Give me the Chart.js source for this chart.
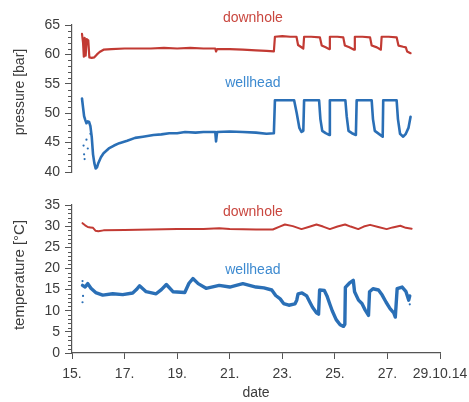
<!DOCTYPE html>
<html>
<head>
<meta charset="utf-8">
<script src="https://cdn.jsdelivr.net/npm/chart.js@4.4.1/dist/chart.umd.min.js"></script>
<style>
  html, body { margin: 0; padding: 0; background: #ffffff; }
  #wrap { position: relative; width: 469px; height: 402px; overflow: hidden; }
  canvas { display: block; position: absolute; left: 0; }
  #c1 { top: 0; }
  #c2 { top: 190px; }
</style>
</head>
<body>
<div id="wrap">
  <canvas id="c1" width="469" height="190"></canvas>
  <canvas id="c2" width="469" height="212"></canvas>
</div>
<script>
// ---------- DATA (date in days of October 2014, value) ----------
const xTickValues = [15, 17, 19, 21, 23, 25, 27, 29];
const xTickLabels = ['15.', '17.', '19.', '21.', '23.', '25.', '27.', '29.10.14'];
const pressureTicks = [40, 45, 50, 55, 60, 65];
const temperatureTicks = [0, 5, 10, 15, 20, 25, 30, 35];
const seriesNames = ['downhole', 'wellhead'];

const pressureDownhole = [
  [15.38,63.5],[15.42,62.0],[15.45,59.6],[15.48,62.8],[15.52,59.8],[15.56,62.6],[15.62,62.4],
  [15.66,59.5],[15.75,59.4],[15.85,59.5],[15.95,60.0],[16.05,60.4],[16.2,60.8],[16.5,60.9],
  [17.0,61.0],[17.5,61.0],[18.0,61.0],[18.5,61.1],[19.0,61.0],[19.5,61.1],[20.0,61.0],
  [20.45,61.0],[20.48,60.5],[20.52,60.9],[21.0,60.9],[21.5,60.8],[22.0,60.7],[22.4,60.6],
  [22.68,60.5],[22.72,63.0],[23.0,63.1],[23.3,63.0],[23.54,63.0],[23.6,61.6],[23.7,61.3],
  [23.8,61.0],[23.83,63.0],[24.1,63.0],[24.43,62.9],[24.5,61.5],[24.65,61.2],[24.78,60.9],
  [24.81,63.0],[25.1,63.0],[25.32,62.9],[25.38,61.5],[25.55,61.2],[25.73,60.8],[25.76,63.0],
  [26.05,63.0],[26.34,62.9],[26.4,61.5],[26.6,61.2],[26.75,60.8],[26.78,63.0],[27.05,63.0],
  [27.35,62.9],[27.42,61.5],[27.6,61.3],[27.7,61.2],[27.75,60.5],[27.88,60.2]
];
const pressureWellhead = [
  [15.38,52.5],[15.42,51.0],[15.46,49.5],[15.5,48.9],[15.55,48.3],[15.6,48.6],[15.65,48.5],
  [15.7,47.8],[15.75,46.0],[15.8,43.0],[15.85,41.5],[15.9,40.6],[15.95,40.8],[16.0,41.5],
  [16.1,42.5],[16.2,43.2],[16.4,44.0],[16.6,44.5],[16.8,44.9],[17.1,45.3],[17.4,45.8],
  [17.7,46.0],[18.1,46.3],[18.4,46.4],[18.7,46.6],[19.0,46.6],[19.3,46.8],[19.7,46.7],
  [20.0,46.8],[20.45,46.8],[20.48,45.2],[20.52,46.8],[21.0,46.9],[21.5,46.8],[22.0,46.7],
  [22.4,46.5],[22.68,46.6],[22.72,52.2],[23.1,52.2],[23.45,52.2],[23.55,50.0],[23.65,47.5],
  [23.73,46.8],[23.8,47.0],[23.83,52.2],[24.1,52.2],[24.4,52.2],[24.45,49.0],[24.52,47.0],
  [24.65,46.6],[24.78,46.3],[24.81,52.2],[25.1,52.2],[25.4,52.2],[25.45,49.5],[25.52,47.0],
  [25.65,46.6],[25.8,46.3],[25.83,52.2],[26.1,52.2],[26.4,52.2],[26.45,49.0],[26.52,47.0],
  [26.7,46.4],[26.82,46.0],[26.84,52.2],[27.1,52.2],[27.35,52.2],[27.4,49.0],[27.48,46.5],
  [27.6,46.0],[27.7,46.5],[27.8,47.5],[27.88,49.4]
];
const pressureWellheadStray = [
  [15.44,44.5],[15.46,43.0],[15.48,42.2],[15.55,45.5],[15.6,44.0],[15.7,46.5]
];
const temperatureDownhole = [
  [15.4,30.7],[15.5,30.2],[15.6,29.8],[15.7,29.7],[15.8,29.6],[15.9,28.9],[16.0,28.8],
  [16.2,29.0],[17.0,29.1],[18.0,29.2],[19.0,29.3],[20.0,29.3],[20.6,29.5],[21.0,29.3],
  [22.0,29.2],[22.64,29.2],[22.9,29.9],[23.1,30.4],[23.4,30.0],[23.73,29.3],[24.0,29.8],
  [24.3,30.4],[24.55,29.9],[24.81,29.3],[25.1,29.9],[25.39,30.4],[25.6,29.9],[25.89,29.3],
  [26.1,29.9],[26.34,30.3],[26.65,29.8],[26.97,29.3],[27.2,29.7],[27.49,30.1],[27.7,29.6],
  [27.92,29.4]
];
const temperatureWellhead = [
  [15.4,16.0],[15.5,15.6],[15.6,16.4],[15.72,15.3],[15.9,14.3],[16.17,13.7],[16.55,14.0],
  [16.93,13.8],[17.31,14.2],[17.45,15.0],[17.57,15.9],[17.82,14.5],[18.2,14.0],[18.4,15.0],
  [18.59,16.2],[18.84,14.5],[19.29,14.3],[19.45,16.5],[19.6,17.6],[19.8,16.4],[20.1,15.3],
  [20.6,16.0],[21.0,15.6],[21.5,16.4],[22.0,15.6],[22.3,15.4],[22.6,14.9],[22.75,13.6],
  [22.92,12.8],[23.05,11.7],[23.25,11.3],[23.48,11.6],[23.55,12.5],[23.6,14.0],[23.75,14.2],
  [23.93,13.5],[24.05,12.0],[24.15,10.8],[24.3,9.5],[24.38,9.2],[24.42,14.9],[24.6,14.8],
  [24.7,13.5],[24.8,11.7],[24.9,10.0],[25.05,7.9],[25.2,6.7],[25.33,6.3],[25.38,6.8],
  [25.4,15.5],[25.55,16.5],[25.7,17.2],[25.75,14.5],[25.9,12.5],[26.03,11.7],[26.15,10.2],
  [26.28,8.9],[26.32,14.5],[26.45,15.2],[26.66,14.9],[26.8,13.7],[26.95,12.0],[27.1,10.5],
  [27.24,9.5],[27.3,8.5],[27.37,15.2],[27.56,15.6],[27.7,14.6],[27.81,12.5],[27.85,13.5]
];
const temperatureWellheadStray = [[15.4,12.0],[15.42,13.5],[15.4,17.0],[27.85,11.5]];

// ---------- STYLE ----------
const RED = '#c23a33';
const BLUE = '#2a6fb6';
const RED_TXT = '#c9473f';
const BLUE_TXT = '#3d8ad0';
const AXIS = '#555555';
const TXT = '#3c3c3c';
const FONT = 'Liberation Sans, Arial, Helvetica, sans-serif';

const toXY = arr => arr.map(p => ({ x: p[0], y: p[1] }));

// minor ticks on y axes + axis titles + series labels
const decorPlugin = {
  id: 'decor',
  afterDraw(chart, args, opts) {
    const ctx = chart.ctx;
    const ys = chart.scales.y;
    const xs = chart.scales.x;
    ctx.save();
    ctx.strokeStyle = AXIS;
    ctx.lineWidth = 1;
    const xr = ys.right;
    for (let v = ys.min; v <= ys.max; v += 1) {
      if (v % 5 === 0) continue;
      const py = Math.round(ys.getPixelForValue(v)) + 0.5;
      ctx.beginPath();
      ctx.moveTo(xr - 4, py);
      ctx.lineTo(xr, py);
      ctx.stroke();
    }
    // axis title (rotated)
    ctx.fillStyle = TXT;
    ctx.font = opts.titleSize + 'px ' + FONT;
    ctx.textAlign = 'center';
    ctx.textBaseline = 'middle';
    ctx.translate(opts.titleX, opts.titleY);
    ctx.rotate(-Math.PI / 2);
    ctx.fillText(opts.title, 0, 0);
    ctx.restore();
    // series labels at data coordinates
    ctx.save();
    ctx.font = '14px ' + FONT;
    ctx.textAlign = 'center';
    ctx.textBaseline = 'middle';
    opts.labels.forEach(l => {
      ctx.fillStyle = l.color;
      ctx.fillText(l.text, xs.getPixelForValue(l.x), ys.getPixelForValue(l.y));
    });
    ctx.restore();
  }
};

function xScale(show) {
  return {
    type: 'linear',
    min: 15, max: 29,
    display: show,
    afterBuildTicks: s => { s.ticks = xTickValues.map(v => ({ value: v })); },
    afterFit: s => {
      if (show) s.height = 49;
      s.paddingLeft = 0; s.paddingRight = 0;
    },
    ticks: {
      color: TXT,
      font: { family: FONT, size: 14 },
      padding: 7,
      maxRotation: 0,
      autoSkip: false,
      callback: (v) => { const i = xTickValues.indexOf(v); return i >= 0 ? xTickLabels[i] : ''; }
    },
    grid: { display: true, drawOnChartArea: false, drawTicks: true, tickLength: 6, color: AXIS, tickColor: AXIS },
    border: { display: true, color: AXIS, width: 1.2 },
    title: { display: show, text: 'date', color: TXT, font: { family: FONT, size: 14 }, padding: { top: 0, bottom: 0 } }
  };
}

function yScale(min, max, tickVals) {
  return {
    type: 'linear',
    min: min, max: max,
    afterBuildTicks: s => { s.ticks = tickVals.map(v => ({ value: v })); },
    afterFit: s => { s.width = 72; s.paddingTop = 0; s.paddingBottom = 0; },
    ticks: {
      color: TXT,
      font: { family: FONT, size: 14 },
      padding: 5,
      autoSkip: false
    },
    grid: { display: true, drawOnChartArea: false, drawTicks: true, tickLength: 7, color: AXIS, tickColor: AXIS },
    border: { display: true, color: AXIS, width: 1.2 }
  };
}

function line(data, color, width) {
  return {
    data: toXY(data), showLine: true, borderColor: color, backgroundColor: color,
    borderWidth: width, pointRadius: 0, tension: 0, borderJoinStyle: 'round', borderCapStyle: 'round'
  };
}
function dots(data, color) {
  return { data: toXY(data), showLine: false, borderColor: color, backgroundColor: color, pointRadius: 1.1, borderWidth: 0 };
}

const common = {
  responsive: false,
  animation: false,
  devicePixelRatio: 1,
  plugins: { legend: { display: false }, tooltip: { enabled: false } }
};

new Chart(document.getElementById('c1'), {
  type: 'scatter',
  data: {
    datasets: [
      line(pressureDownhole, RED, 2.2),
      line(pressureWellhead, BLUE, 2.6),
      dots(pressureWellheadStray, BLUE)
    ]
  },
  options: Object.assign({}, common, {
    layout: { padding: { top: 25, right: 29, bottom: 18, left: 0 } },
    scales: { x: xScale(false), y: yScale(40, 65, pressureTicks) },
    plugins: Object.assign({}, common.plugins, {
      decor: {
        title: 'pressure [bar]', titleX: 20, titleY: 92, titleSize: 14,
        labels: [
          { text: seriesNames[0], x: 21.88, y: 66.2, color: RED_TXT },
          { text: seriesNames[1], x: 21.88, y: 55.1, color: BLUE_TXT }
        ]
      }
    })
  }),
  plugins: [decorPlugin]
});

new Chart(document.getElementById('c2'), {
  type: 'scatter',
  data: {
    datasets: [
      line(temperatureDownhole, RED, 2.0),
      line(temperatureWellhead, BLUE, 3.4),
      dots(temperatureWellheadStray, BLUE)
    ]
  },
  options: Object.assign({}, common, {
    layout: { padding: { top: 15, right: 29, bottom: 0, left: 0 } },
    scales: { x: xScale(true), y: yScale(0, 35, temperatureTicks) },
    plugins: Object.assign({}, common.plugins, {
      decor: {
        title: 'temperature [°C]', titleX: 20, titleY: 85, titleSize: 15,
        labels: [
          { text: seriesNames[0], x: 21.88, y: 33.4, color: RED_TXT },
          { text: seriesNames[1], x: 21.88, y: 19.6, color: BLUE_TXT }
        ]
      }
    })
  }),
  plugins: [decorPlugin]
});
</script>
</body>
</html>
